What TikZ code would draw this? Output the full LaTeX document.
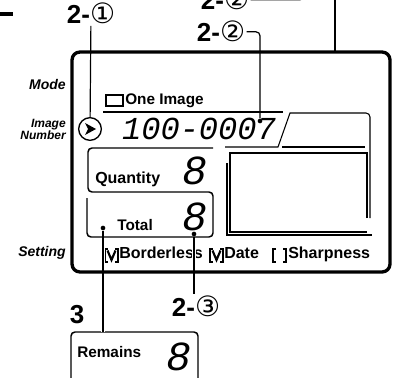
\documentclass[tikz,border=0pt]{standalone}
\usepackage{fontspec}
\setmainfont{Liberation Sans}
\newfontfamily\segfont{Liberation Mono}
\newfontfamily\circfont{DejaVu Sans}
\usetikzlibrary{positioning, calc}

\begin{document}
\begin{tikzpicture}[x=0.75pt, y=-0.75pt,
            lbl/.style={font=\fontsize{19.5}{20}\selectfont\bfseries, inner sep=1pt, anchor=base},
            side/.style={font=\fontsize{10.5}{11}\selectfont\bfseries\itshape, anchor=east, align=right, inner sep=0pt},
            txt/.style={font=\fontsize{11.5}{12}\selectfont\bfseries, anchor=base west, inner sep=0pt},
            seg/.style={font=\segfont\fontsize{24}{24}\selectfont\itshape, anchor=base, inner sep=0pt},
            big/.style={font=\segfont\fontsize{31}{31}\selectfont\itshape, anchor=base, inner sep=0pt},
            dot/.style={circle, fill=black, inner sep=0pt, minimum size=3.5pt},
            lead/.style={line width=0.9pt},
            halo/.style={lead, preaction={draw=white, line width=3pt}},
            fine/.style={line width=0.8pt},
            tick/.style={line width=1.6pt}]
            \useasboundingbox (0,0) rectangle (393,378);
            \fill (0,12) rectangle (13,16);
            \node[side] (mode) at (66,84) {Mode};
            \node[side, font=\fontsize{9}{9}\selectfont\bfseries\itshape] (imgnum) at (66,129) {Image\\Number};
            \node[side] (setting) at (66,253) {Setting};
            \node[lbl] (lblTop) at (225,10) {2-{\circfont\mdseries\fontsize{21}{21}\selectfont ②}};
            \node[lbl] (lblA) at (91,24) {2-{\circfont\mdseries\fontsize{21}{21}\selectfont ①}};
            \node[lbl] (lblB) at (221,42) {2-{\circfont\mdseries\fontsize{21}{21}\selectfont ②}};
            \node[lbl] (lblC) at (196,316) {2-{\circfont\mdseries\fontsize{21}{21}\selectfont ③}};
            \node[lbl] (lbl3) at (77,323) {3};
            \node[draw, fine, minimum width=12.75pt, minimum height=8.25pt, inner sep=0pt] (modebox) at (114.5,100.5) {};
            \node[txt] (oneimg) at (125,105) {One Image};
            \draw[fine] (103,112) -- (283,112);
            \node[circle, draw, line width=1pt, minimum size=17pt, inner sep=0pt] (imgmark) at (90,129) {};
            \fill (85,123) -- (96,129) -- (85,135) -- (88,129) -- cycle;
            \node[seg] (imgno) at (199,139) {100-0007};
            \node[dot] (dimg) at (260,121) {};
            \node[txt, font=\fontsize{12}{12}\selectfont\bfseries] (qty) at (95,183) {Quantity};
            \node[big] (qtyval) at (195,185) {8};
            \node[txt] (total) at (117,230) {Total};
            \node[big] (totval) at (195,230) {8};
            \node[dot] (dtot) at (103,228) {};
            \node[dot] (dval) at (194,234) {};
            \draw[fine] (225,147) -- (278,147) -- (290,113) [rounded corners=3pt] -- (370,113) -- (370,218);
            \draw[fine] (282,147) -- (365,147);
            \draw[fine] (367,218) -- (367,153) -- (230,153) -- (230,232) -- (367,232);
            \draw[fine] (227,163) -- (227,235) -- (372,235);
            \foreach \bx in {105,210,273} {
              \draw[tick] (\bx+3,249) -- (\bx,249) -- (\bx,262) -- (\bx+3,262);
              \draw[tick] (\bx+10,249) -- (\bx+13,249) -- (\bx+13,262) -- (\bx+10,262);
            }
            \foreach \bx in {105,210}
              \draw[tick] (\bx+2.5,250.5) -- (\bx+6.5,260) -- (\bx+10.5,250.5);
            \node[txt, font=\fontsize{12}{12}\selectfont\bfseries] (bless) at (119,258) {Borderless};
            \node[txt, font=\fontsize{12}{12}\selectfont\bfseries] (date) at (224,258) {Date};
            \node[txt, font=\fontsize{12}{12}\selectfont\bfseries] (sharp) at (288,258) {Sharpness};
            \draw[line width=1.1pt, rounded corners=3pt] (71,400) -- (71,332) -- (198,332) -- (198,400);
            \coordinate (remTop) at (103,332);
            \node[txt] (remains) at (77,357) {Remains};
            \node[big] (remval) at (179,370) {8};
            \draw[halo] (dtot) -- (remTop);
            \draw[halo] (dval) -- (dval |- lblC.north);
            \draw[line width=2.5pt, rounded corners=6pt] (72,52) rectangle (390,272);
            \draw[line width=1.1pt, rounded corners=3pt] (213,148) -- (88,148) -- (88,192) -- (213,192) -- (213,237) -- (87,237) -- (87,198);
            \coordinate (panelTop) at (335,52);
            \coordinate (topEnd) at (335,0);
            \draw[lead] (panelTop) -- (topEnd);
            \draw[lead] (lblA) -- (imgmark);
            \draw[lead, rounded corners=3pt] (lblB.east) -| (dimg);
            \coordinate (fragEnd) at (304,-3);
            \coordinate (fragTick) at (288,-3);
            \draw[lead, rounded corners=3pt] (lblTop.east) -| (fragEnd);
            \draw[lead] (fragTick) -- (fragTick |- lblTop.east);
        \end{tikzpicture}
\end{document}
